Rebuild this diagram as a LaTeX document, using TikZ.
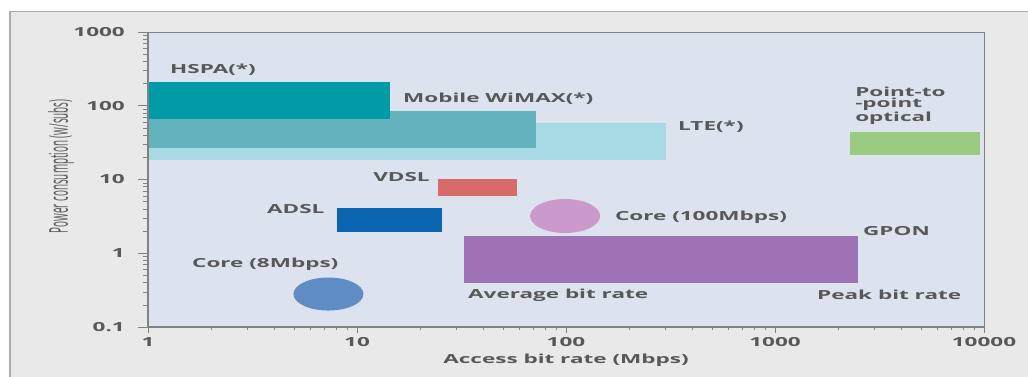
\documentclass[tikz,border=0pt]{standalone}
\usepackage{fontspec}
\usepackage{tikz}
\usetikzlibrary{arrows.meta, positioning}

\newfontfamily\chartfont{Open Sans}[FakeStretch=1.8]
\newfontfamily\titlefont{Open Sans}[FakeStretch=0.38]

\definecolor{framebg}{RGB}{233,233,233}
\definecolor{frameline}{RGB}{172,172,172}
\definecolor{plotbg}{RGB}{220,226,238}
\definecolor{axisgray}{RGB}{130,130,130}
\definecolor{textgray}{RGB}{88,88,88}
\definecolor{hspa}{RGB}{0,155,166}
\definecolor{wimax}{RGB}{100,178,189}
\definecolor{lte}{RGB}{168,218,230}
\definecolor{vdsl}{RGB}{217,106,106}
\definecolor{adsl}{RGB}{10,100,176}
\definecolor{gpon}{RGB}{158,114,180}
\definecolor{ptp}{RGB}{153,204,128}
\definecolor{coreA}{RGB}{96,140,198}
\definecolor{coreB}{RGB}{204,153,204}

\begin{document}
\begin{tikzpicture}[
        x=209pt, y=73.75pt,
        lbl/.style={font=\chartfont\bfseries\fontsize{12.5}{11.5}\selectfont, text=textgray, inner sep=0pt, anchor=west},
        ticklbl/.style={font=\chartfont\bfseries\fontsize{12.5}{14}\selectfont, text=textgray, inner sep=0pt},
        >=Stealth
    ]
        \useasboundingbox (-148pt,-122.75pt) rectangle (880pt,253.25pt);

        % Background
        \fill[white] (-148pt,-122.75pt) rectangle (880pt,253.25pt);
        \filldraw[fill=framebg, draw=frameline, line width=1.5pt] (-138pt,-140pt) rectangle (895pt,242pt);
        \fill[plotbg] (0,-1) rectangle (4,3);

        % Bars (x: Mbps, y: W per subscriber)
        \fill[lte] (0,{log10(18.4)}) rectangle ({log10(300)},{log10(58)});
        \fill[wimax] (0,{log10(26.7)}) rectangle ({log10(72)},{log10(85)});
        \fill[hspa] (0,{log10(66)}) rectangle ({log10(14.4)},{log10(210)});
        \fill[vdsl] ({log10(24.4)},{log10(6)}) rectangle ({log10(58)},{log10(10.2)});
        \fill[adsl] ({log10(8)},{log10(1.94)}) rectangle ({log10(25.5)},{log10(4.1)});
        \fill[gpon] ({log10(32.5)},{log10(0.395)}) rectangle ({log10(2500)},{log10(1.71)});
        \fill[ptp] ({log10(2290)},{log10(21.5)}) rectangle ({log10(9600)},{log10(44)});
        \fill[coreA] ({log10(7.3)},{log10(0.28)}) ellipse [x radius=35pt, y radius=16.5pt];
        \fill[coreB] ({log10(99)},{log10(3.2)}) ellipse [x radius=35pt, y radius=17pt];

        % Labels
        \node[lbl] (hspalbl) at (0.105,2.485) {HSPA(*)};
        \node[lbl] (wimaxlbl) at (1.220,2.092) {Mobile WiMAX(*)};
        \node[lbl] (ltelbl) at (2.536,1.712) {LTE(*)};
        \node[lbl, align=left] (ptplbl) at (3.383,2.003) {Point-to\\-point\\optical};
        \node[lbl] (vdsllbl) at (1.077,1.034) {VDSL};
        \node[lbl] (adsllbl) at (0.569,0.600) {ADSL};
        \node[lbl] (corebiglbl) at (2.234,0.491) {Core (100Mbps)};
        \node[lbl] (gponlbl) at (3.421,0.302) {GPON};
        \node[lbl] (coresmalllbl) at (0.2105,-0.146) {Core (8Mbps)};
        \node[lbl] (avglbl) at (1.531,-0.566) {Average bit rate};
        \node[lbl] (peaklbl) at (3.201,-0.566) {Peak bit rate};

        % Axes and ticks
        \draw[axisgray, line width=0.8pt] (0,3) -- (4,3) -- (4,-1);
        \foreach \d in {-1,...,2}
            \foreach \m in {2,...,9}
                \draw[axisgray, line width=0.6pt] (0,{\d+log10(\m)}) -- ++(-5pt,0);
        \foreach \d in {-1,...,3}
            \draw[axisgray, line width=0.8pt] (0,\d) -- ++(-10pt,0);
        \foreach \d in {0,...,3}
            \foreach \m in {2,...,9}
                \draw[axisgray, line width=0.6pt] ({\d+log10(\m)},-1) -- ++(0,-3pt);
        \foreach \d in {0,...,4}
            \draw[axisgray, line width=0.8pt] (\d,-1) -- ++(0,-6pt);
        \draw[axisgray, line width=1.2pt] (0,3) -- (0,-1) -- (4,-1);

        \foreach \e/\t in {-1/0.1, 0/1, 1/10, 2/100, 3/1000}
            \node[ticklbl, anchor=east] (ytick\e) at ([xshift=-23pt]0,\e) {\t};
        \foreach \e/\t in {0/1, 1/10, 2/100, 3/1000, 4/10000}
            \node[ticklbl] (xtick\e) at ([yshift=-15pt]\e,-1) {\t};

        \node[ticklbl] (xtitle) at ([yshift=-33pt]2,-1) {Access bit rate (Mbps)};
        \node[rotate=90, font=\titlefont\fontsize{26}{28}\selectfont, text=textgray, inner sep=0pt] (ytitle) at ([xshift=-87pt]0,1.18) {Power consumption (w/subs)};
    \end{tikzpicture}
\end{document}
